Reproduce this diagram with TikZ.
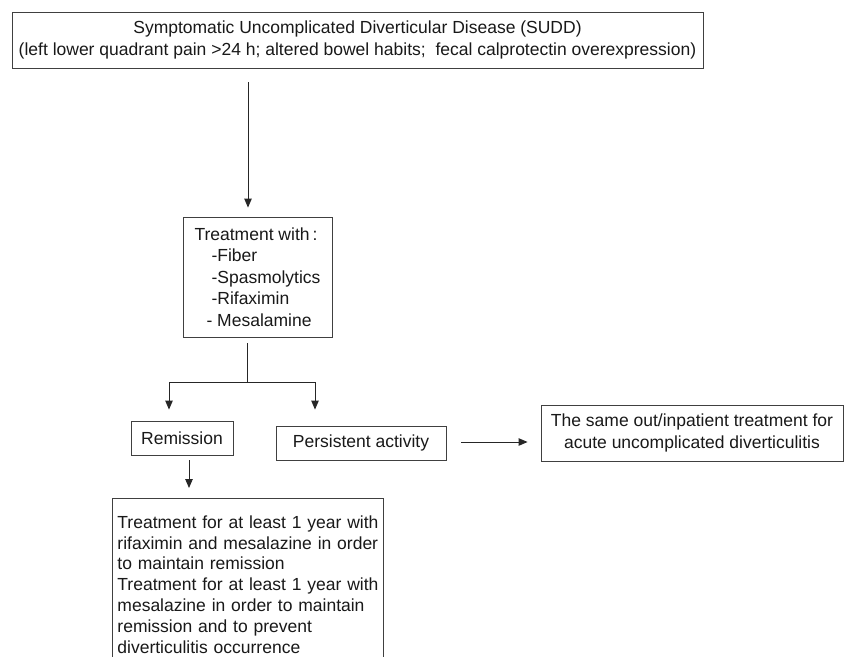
\documentclass[tikz,border=0pt]{standalone}
\usepackage{fontspec}
\setmainfont{Liberation Sans}
\usetikzlibrary{arrows.meta}
\begin{document}
\begin{tikzpicture}[x=1pt,y=-1pt,
  every node/.style={font=\fontsize{17.5}{21.6}\selectfont, text=black!90},
  box/.style={draw=black!75, line width=0.9pt, inner sep=0pt},
  conn/.style={draw=black!85, line width=0.9pt},
  arr/.style={conn, -{Triangle[length=9pt,width=7.5pt]}}]
\clip (0,0) rectangle (845,656);
\fill[white] (0,0) rectangle (845,656);
% nodes
\node[box, minimum width=691pt, minimum height=56pt, align=center] (top) at (357.5,40)
  {Symptomatic Uncomplicated Diverticular Disease (SUDD)\\(left lower quadrant pain >24 h; altered bowel habits;\ \ fecal calprotectin overexpression)};
\node[box, minimum width=149pt, minimum height=120pt, inner xsep=11pt, align=left] (treat) at (257.5,277)
  {Treatment with\,:\\\hspace*{17pt}-Fiber\\\hspace*{17pt}-Spasmolytics\\\hspace*{17pt}-Rifaximin\\\hspace*{12pt}- Mesalamine};
\node[box, minimum width=102pt, minimum height=34pt] (rem) at (182,438) {Remission};
\node[box, minimum width=170pt, minimum height=34pt] (pers) at (361,443) {Persistent activity};
\node[box, minimum width=302pt, minimum height=56pt, align=center] (same) at (692,433)
  {The same out/inpatient treatment for\\acute uncomplicated diverticulitis};
\node[box, anchor=north west, inner xsep=5pt, inner ysep=17pt, text width=261pt, align=left,
  font=\fontsize{17.5}{20.9}\selectfont] (maint) at (112,498)
  {Treatment for at least 1 year with\\rifaximin and mesalazine in order\\to maintain remission\\Treatment for at least 1 year with\\mesalazine in order to maintain\\remission and to prevent\\diverticulitis occurrence};
% connectors
\coordinate (a1) at ([yshift=-14pt]top.south -| 248,0);
\coordinate (a2) at ([yshift=9pt]treat.north);
\draw[arr] (a1) -- (a1 |- a2);
\coordinate (b1) at ([xshift=-10.5pt,yshift=-6pt]treat.south);
\coordinate (b2) at ([yshift=-45pt]treat.south);
\coordinate (bl) at ([xshift=-13pt,yshift=11pt]rem.north);
\coordinate (br) at ([xshift=-46pt,yshift=16pt]pers.north);
\draw[conn] (b1) -- (b1 |- b2);
\draw[conn] (bl |- b2) -- (br |- b2);
\draw[arr] (bl |- b2) -- (bl);
\draw[arr] (br |- b2) -- (br);
\coordinate (c1) at ([xshift=7pt,yshift=-5pt]rem.south);
\coordinate (c2) at ([yshift=10pt]maint.north);
\draw[arr] (c1) -- (c1 |- c2);
\coordinate (d1) at ([xshift=15pt,yshift=1pt]pers.east);
\coordinate (d2) at ([xshift=-13pt]same.west);
\draw[arr] (d1) -- (d1 -| d2);
\end{tikzpicture}
\end{document}
